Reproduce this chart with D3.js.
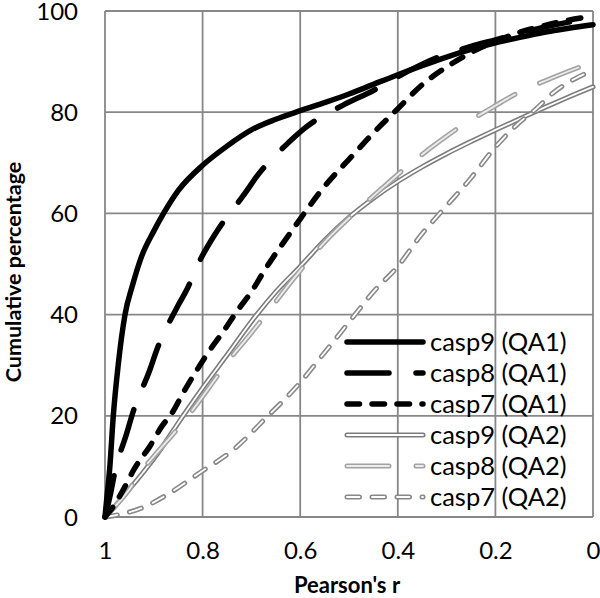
<!DOCTYPE html>
<html>
<head>
<meta charset="utf-8">
<script src="https://cdn.jsdelivr.net/npm/d3@7"></script>
<style>
  html, body { margin: 0; padding: 0; background: #fff; }
  svg text { font-family: Lato, "Open Sans", sans-serif; fill: #000; }
</style>
</head>
<body>
<svg id="chart" width="600" height="598"></svg>
<script>
// ---- data ----
const xTicks = [1, 0.8, 0.6, 0.4, 0.2, 0];
const xTickLabels = ["1", "0.8", "0.6", "0.4", "0.2", "0"];
const yTicks = [0, 20, 40, 60, 80, 100];
const yTickLabels = ["0", "20", "40", "60", "80", "100"];
const seriesNames = ["casp9 (QA1)", "casp8 (QA1)", "casp7 (QA1)", "casp9 (QA2)", "casp8 (QA2)", "casp7 (QA2)"];

const r_casp9_QA1 = [1, 0.997, 0.99, 0.983, 0.973, 0.959, 0.943, 0.925, 0.9, 0.88, 0.85, 0.8, 0.75, 0.7, 0.65, 0.6, 0.55, 0.5, 0.45, 0.4, 0.35, 0.3, 0.25, 0.2, 0.15, 0.1, 0.05, 0];
const v_casp9_QA1 = [0, 3, 10, 20, 30, 40, 46, 51.5, 56.5, 60, 64.5, 69.5, 73.3, 76.5, 78.6, 80.3, 81.9, 83.6, 85.5, 87.4, 89.2, 90.9, 92.4, 93.7, 94.8, 95.8, 96.6, 97.3];

const r_casp8_QA1 = [1, 0.99, 0.98, 0.955, 0.943, 0.908, 0.894, 0.853, 0.832, 0.805, 0.771, 0.713, 0.689, 0.625, 0.59, 0.512, 0.45, 0.4, 0.35, 0.3, 0.25, 0.2, 0.15, 0.1, 0.05, 0];
const v_casp8_QA1 = [0, 4, 8.8, 16.7, 20.6, 29.1, 33, 41.3, 45, 50.8, 56.4, 64, 67.3, 73.9, 76.9, 81.4, 84.3, 87, 89.5, 91.5, 93, 94.3, 95.6, 96.8, 97.8, 98.6];

const r_casp7_QA1 = [1, 0.98, 0.963, 0.94, 0.908, 0.883, 0.863, 0.84, 0.812, 0.785, 0.758, 0.727, 0.7, 0.672, 0.611, 0.553, 0.492, 0.451, 0.402, 0.348, 0.299, 0.25, 0.2, 0.15, 0.1, 0.05, 0];
const v_casp7_QA1 = [0, 2.5, 5.3, 9.5, 14, 18, 20.5, 24.5, 29, 33, 36.6, 41, 44.5, 48.9, 57.4, 65, 71.5, 75.8, 80.5, 85.6, 89, 91.8, 94, 95.8, 97.1, 98.2, 99];

const r_casp9_QA2 = [1, 0.99, 0.95, 0.922, 0.9, 0.84, 0.8, 0.75, 0.689, 0.65, 0.6, 0.55, 0.5, 0.45, 0.4, 0.35, 0.3, 0.25, 0.2, 0.15, 0.1, 0.05, 0];
const v_casp9_QA2 = [0, 1, 5.5, 8.8, 11.5, 20, 25.5, 32, 40, 44.5, 49.5, 54.7, 59.2, 63, 66.3, 69.2, 71.8, 74.2, 76.5, 78.7, 80.9, 83, 85];

const r_casp8_QA2 = [1, 0.99, 0.95, 0.928, 0.9, 0.836, 0.785, 0.75, 0.7, 0.668, 0.615, 0.55, 0.484, 0.426, 0.389, 0.318, 0.279, 0.205, 0.164, 0.078, 0];
const v_casp8_QA2 = [0, 1, 5.5, 8.8, 12, 19.2, 25.8, 30.5, 36.4, 40.3, 46.9, 54.3, 60.5, 65.5, 68.6, 74, 76.7, 81, 83.3, 87, 89.9];

const r_casp7_QA2 = [1, 0.97, 0.922, 0.873, 0.805, 0.737, 0.668, 0.607, 0.55, 0.491, 0.45, 0.402, 0.35, 0.314, 0.25, 0.201, 0.156, 0.115, 0.082, 0.041, 0];
const v_casp7_QA2 = [0, 0.5, 1.9, 4.4, 8.8, 13.3, 19.8, 25.8, 32.5, 39.6, 44.5, 49.3, 56, 60, 67, 73, 77.5, 80.8, 83.8, 86.4, 88.3];

// ---- styles ----
const LONG = "42,27", SHORT = "12.5,12.5";
const styles = [
  { outer: "#000", w: 5.5, dash: null },
  { outer: "#000", w: 5.5, dash: LONG },
  { outer: "#000", w: 5.5, dash: SHORT },
  { outer: "#7c7c7c", w: 5, inner: "#fff", iw: 1.8, dash: null },
  { outer: "#a2a2a2", w: 5, inner: "#ececec", iw: 1.8, dash: LONG },
  { outer: "#888888", w: 5, inner: "#fff", iw: 1.8, dash: SHORT }
];

const series = [
  { r: r_casp9_QA1, v: v_casp9_QA1 },
  { r: r_casp8_QA1, v: v_casp8_QA1 },
  { r: r_casp7_QA1, v: v_casp7_QA1 },
  { r: r_casp9_QA2, v: v_casp9_QA2 },
  { r: r_casp8_QA2, v: v_casp8_QA2 },
  { r: r_casp7_QA2, v: v_casp7_QA2 }
].map((s, i) => ({ name: seriesNames[i], style: styles[i], pts: s.r.map((r, j) => [r, s.v[j]]) }));

// ---- layout ----
const svg = d3.select("#chart");
const pLeft = 105, pRight = 593, pTop = 11, pBottom = 517;
const x = d3.scaleLinear().domain([1, 0]).range([pLeft, pRight]);
const y = d3.scaleLinear().domain([0, 100]).range([pBottom, pTop]);
const gridColor = "#878787";

// gridlines
const g = svg.append("g");
g.selectAll("line.h").data(yTicks).join("line")
  .attr("x1", pLeft).attr("x2", pRight)
  .attr("y1", d => y(d)).attr("y2", d => y(d))
  .attr("stroke", gridColor).attr("stroke-width", 1.8);
g.selectAll("line.v").data(xTicks).join("line")
  .attr("y1", pTop).attr("y2", pBottom)
  .attr("x1", d => x(d)).attr("x2", d => x(d))
  .attr("stroke", gridColor).attr("stroke-width", 1.8);

// axes via d3 axis (labels only)
const yAxis = d3.axisLeft(y).tickValues(yTicks).tickFormat((d, i) => yTickLabels[i]).tickSize(0).tickPadding(27);
const xAxis = d3.axisBottom(x).tickValues(xTicks).tickFormat((d, i) => xTickLabels[i]).tickSize(0).tickPadding(25);
const ya = svg.append("g").attr("transform", `translate(${pLeft},0)`).call(yAxis);
const xa = svg.append("g").attr("transform", `translate(0,${pBottom})`).call(xAxis);
[ya, xa].forEach(a => {
  a.select(".domain").remove();
  a.selectAll("text").style("font-family", "Lato, sans-serif").style("font-size", "24px").attr("fill", "#000");
});
ya.selectAll("text").attr("dy", "0.34em");

// axis titles
svg.append("text").attr("x", 347).attr("y", 593).attr("text-anchor", "middle")
  .style("font-size", "22px").style("font-weight", "bold").text("Pearson's r");
svg.append("text").attr("transform", "translate(21,272) rotate(-90)").attr("text-anchor", "middle")
  .style("font-size", "21.5px").style("font-weight", "bold").text("Cumulative percentage");

// lines
const line = d3.line().x(d => x(d[0])).y(d => y(d[1])).curve(d3.curveMonotoneX);
function drawPath(sel, st) {
  sel.append("path").attr("fill", "none").attr("stroke", st.outer).attr("stroke-width", st.w)
    .attr("stroke-linecap", "round").attr("stroke-linejoin", "round")
    .attr("stroke-dasharray", st.dash);
  if (st.inner) {
    sel.append("path").attr("fill", "none").attr("stroke", st.inner).attr("stroke-width", st.iw)
      .attr("stroke-linecap", "round").attr("stroke-linejoin", "round")
      .attr("stroke-dasharray", st.dash);
  }
}
const order = [3, 4, 5, 0, 1, 2];
order.forEach(i => {
  const s = series[i];
  const gg = svg.append("g");
  drawPath(gg, s.style);
  gg.selectAll("path").attr("d", line(s.pts));
});

// legend
const lx0 = 347, lx1 = 423, ly0 = 342, ldy = 31;
series.forEach((s, i) => {
  const gy = ly0 + i * ldy;
  const gg = svg.append("g");
  drawPath(gg, s.style);
  gg.selectAll("path").attr("d", d3.line()([[lx0, gy], [lx1, gy]]));
  svg.append("text").attr("x", 430).attr("y", gy).attr("dy", "0.36em")
    .style("font-size", "25.5px").text(s.name);
});
</script>
</body>
</html>
